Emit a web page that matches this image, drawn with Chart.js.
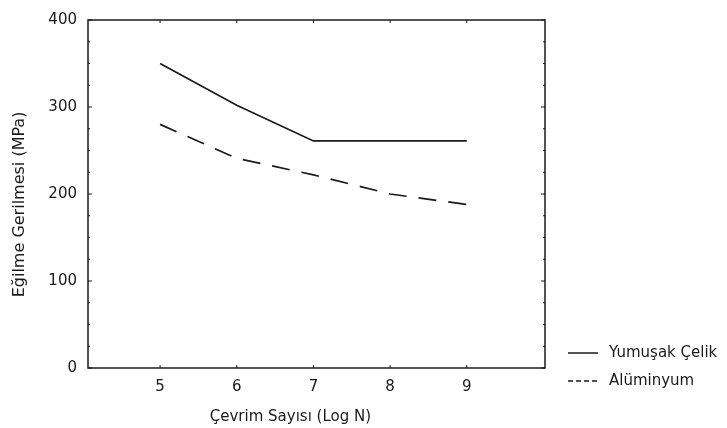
<!DOCTYPE html>
<html>
<head>
<meta charset="utf-8">
<script src="https://cdn.jsdelivr.net/npm/chart.js@4/dist/chart.umd.min.js"></script>
<style>
  html, body { margin: 0; padding: 0; background: #fff; }
  #wrap { width: 727px; height: 428px; position: relative; }
</style>
</head>
<body>
<div id="wrap"><canvas id="grafico"></canvas></div>
<script>
// --- Dados do gráfico ---
const cycles = [5, 6, 7, 8, 9];
const steelStress = [350, 302, 261, 261, 261];
const aluminumStress = [280, 241, 222, 200, 188];
const seriesNames = ['Yumuşak Çelik', 'Alüminyum'];
const xTicks = [5, 6, 7, 8, 9];
const yTicks = [0, 100, 200, 300, 400];

const FONT = '"DejaVu Sans", Arial, sans-serif';
const INK = '#1a1a1a';

function toPoints(values) {
    return cycles.map((c, i) => ({ x: c, y: values[i] }));
}

// caixa, marcas internas, títulos dos eixos e legenda
const framePlugin = {
    id: 'frame',
    afterDraw(chart) {
        const ctx = chart.ctx;
        const a = chart.chartArea;
        const xs = chart.scales.x;
        const ys = chart.scales.y;
        ctx.save();
        ctx.strokeStyle = INK;
        ctx.lineWidth = 1.5;
        ctx.strokeRect(a.left, a.top, a.right - a.left, a.bottom - a.top);

        // marcas internas do eixo y (maiores a cada 100, menores a cada 25)
        ctx.lineWidth = 1;
        for (let v = 0; v <= 400; v += 25) {
            const py = ys.getPixelForValue(v);
            const len = v % 100 === 0 ? 4 : 2;
            ctx.beginPath();
            ctx.moveTo(a.left, py); ctx.lineTo(a.left + len, py);
            ctx.moveTo(a.right, py); ctx.lineTo(a.right - len, py);
            ctx.stroke();
        }
        xTicks.forEach(v => {
            const px = xs.getPixelForValue(v);
            ctx.beginPath();
            ctx.moveTo(px, a.bottom); ctx.lineTo(px, a.bottom - 3);
            ctx.moveTo(px, a.top); ctx.lineTo(px, a.top + 3);
            ctx.stroke();
        });

        // título do eixo x
        ctx.fillStyle = INK;
        ctx.font = '15px ' + FONT;
        ctx.textAlign = 'center';
        ctx.textBaseline = 'middle';
        ctx.fillText('Çevrim Sayısı (Log N)', xs.getPixelForValue(6.7), a.bottom + 49);

        // título do eixo y (um pouco abaixo do centro, como no original)
        ctx.save();
        ctx.translate(20, ys.getPixelForValue(188));
        ctx.rotate(-Math.PI / 2);
        ctx.font = '16px ' + FONT;
        ctx.fillText('Eğilme Gerilmesi (MPa)', 0, 0);
        ctx.restore();

        // legenda à direita
        ctx.textAlign = 'left';
        chart.data.datasets.forEach((ds, i) => {
            const ly = a.bottom - 15 + i * 28;
            const lx = a.right + 23;
            ctx.beginPath();
            ctx.lineWidth = 1.5;
            ctx.setLineDash(i === 1 ? [5, 3] : []);
            ctx.moveTo(lx, ly); ctx.lineTo(lx + 30, ly);
            ctx.stroke();
            ctx.setLineDash([]);
            ctx.fillText(ds.label, lx + 41, ly);
        });
        ctx.restore();
    }
};

const config = {
    type: 'line',
    data: {
        datasets: [
            {
                label: seriesNames[0],
                data: toPoints(steelStress),
                borderColor: INK,
                borderWidth: 1.7,
                pointRadius: 0,
                tension: 0,
                fill: false
            },
            {
                label: seriesNames[1],
                data: toPoints(aluminumStress),
                borderColor: INK,
                borderWidth: 1.7,
                borderDash: [18, 12],
                pointRadius: 0,
                tension: 0,
                fill: false
            }
        ]
    },
    options: {
        responsive: true,
        maintainAspectRatio: false,
        animation: false,
        layout: { padding: { left: 0, top: 17, right: 182, bottom: 0 } },
        plugins: {
            legend: { display: false },
            tooltip: { enabled: false }
        },
        scales: {
            x: {
                type: 'linear',
                min: 4.06,
                max: 10.02,
                afterBuildTicks: s => { s.ticks = xTicks.map(v => ({ value: v })); },
                afterFit: s => { s.height = 60; },
                grid: { display: false, drawTicks: false },
                border: { display: false },
                ticks: {
                    color: INK,
                    padding: 10,
                    font: { family: FONT, size: 15 }
                }
            },
            y: {
                min: 0,
                max: 400,
                afterBuildTicks: s => { s.ticks = yTicks.map(v => ({ value: v })); },
                afterFit: s => { s.width = 88; },
                grid: { display: false, drawTicks: false },
                border: { display: false },
                ticks: {
                    color: INK,
                    padding: 11,
                    font: { family: FONT, size: 15 }
                }
            }
        }
    },
    plugins: [framePlugin]
};

new Chart(document.getElementById('grafico').getContext('2d'), config);
</script>
</body>
</html>
